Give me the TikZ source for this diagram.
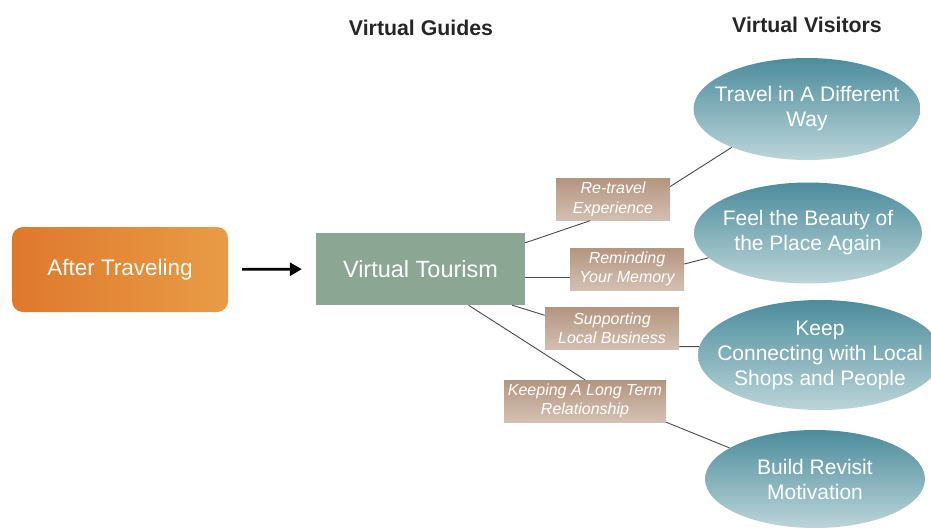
\documentclass[tikz,border=0pt]{standalone}
\usepackage{fontspec}
\setmainfont{Liberation Sans}
\usepackage{tikz}
\usetikzlibrary{positioning,calc,shapes.geometric,arrows.meta}
\usepackage{xcolor}
\definecolor{carrot}{HTML}{DE782D}
\definecolor{carrotlight}{HTML}{E99C45}
\definecolor{sage}{HTML}{8BA692}
\definecolor{taupe}{HTML}{B4957F}
\definecolor{taupelight}{HTML}{D3C0B3}
\definecolor{lagoon}{HTML}{4C8C9D}
\definecolor{lagoonmid}{HTML}{6CA1AF}
\definecolor{lagoonlight}{HTML}{BCD5D9}
\definecolor{wire}{HTML}{4A4A4A}

\tikzset{
  heading/.style={font=\bfseries\fontsize{21.3}{25}\selectfont,text=black!85},
  startbox/.style={rectangle,rounded corners=11pt,left color=carrot,right color=carrotlight,
    minimum width=216pt,minimum height=85pt,text=white,font=\fontsize{22.5}{26}\selectfont},
  hubbox/.style={rectangle,fill=sage,minimum width=209pt,minimum height=72pt,
    text=white,font=\fontsize{23.5}{27}\selectfont},
  tagbox/.style={rectangle,top color=taupe,bottom color=taupelight,minimum height=42pt,
    inner sep=0pt,align=center,text=white,font=\itshape\fontsize{16}{19.5}\selectfont},
  % negative sep so that the minimum size alone fixes the ellipse
  goal/.style={ellipse,top color=lagoon,middle color=lagoonmid,bottom color=lagoonlight,
    inner xsep=-40pt,inner ysep=-20pt,align=center,text=white,font=\fontsize{21}{25}\selectfont},
  link/.style={draw=wire,line width=0.9pt}
}

\begin{document}
\begin{tikzpicture}[x=1pt,y=-1pt]
  \useasboundingbox (0,0) rectangle (931,531);
  \clip (0,0) rectangle (931,531);

  % column titles
  \node[heading] (guides) at (421,28) {Virtual Guides};
  \node[heading] (visitors) at (807,25) {Virtual Visitors};

  % left part
  \node[startbox] (after) at (120,269.5) {After Traveling};
  \node[hubbox] (vt) at (420.5,269) {Virtual Tourism};
  \draw[-{Triangle[length=12pt,width=13pt]},line width=2.6pt,shorten <=14pt,shorten >=14pt]
    (after) -- (vt);

  % what the guides offer
  \node[tagbox,minimum width=114pt] (b1) at (613,199.5) {Re-travel\\Experience};
  \node[tagbox,minimum width=114pt] (b2) at (627,269) {Reminding\\Your Memory};
  \node[tagbox,minimum width=134pt] (b3) at (612,328.5) {Supporting\\Local Business};
  \node[tagbox,minimum width=162pt] (b4) at (585,401) {Keeping A Long Term\\Relationship};

  % what the visitors get
  \node[goal,minimum width=227pt,minimum height=102pt] (e1) at (807,109) {Travel in A Different\\Way};
  \node[goal,minimum width=228pt,minimum height=101pt] (e2) at (808,233) {Feel the Beauty of\\the Place Again};
  \node[goal,minimum width=244pt,minimum height=110pt] (e3) at (820,355) {Keep\\Connecting with Local\\Shops and People};
  \node[goal,minimum width=220pt,minimum height=98pt] (e4) at (815,479) {Build Revisit\\Motivation};

  % wires
  \draw[link] ($(vt.north east)+(0,10)$) -- ($(b1.south)+(-23,0)$);
  \draw[link] ($(b1.east)+(0,-13)$) -- (e1.207);
  \draw[link] ($(vt.east)+(0,8)$) -- ($(b2.west)+(0,8)$);
  \draw[link] ($(b2.east)+(0,-5)$) -- (e2.194);
  \draw[link] ($(vt.south east)+(-13,0)$) -- ($(b3.north west)+(0,8)$);
  \draw[link] ($(b3.south east)+(0,-3)$) -- (e3.176);
  \draw[link] ($(vt.south)+(48,0)$) -- (b4.north);
  \draw[link] (b4.south east) -- (e4.160);
\end{tikzpicture}
\end{document}
